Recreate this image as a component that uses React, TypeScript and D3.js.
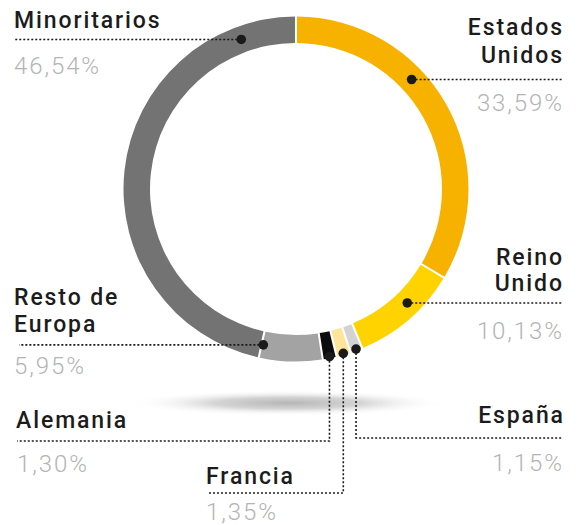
import React from "react";
import * as d3 from "d3";

// ---- data ----
const categories = ["Estados Unidos", "Reino Unido", "España", "Francia", "Alemania", "Resto de Europa", "Minoritarios"];
const values = [33.59, 10.13, 1.15, 1.35, 1.3, 5.95, 46.54];
const valueLabels = ["33,59%", "10,13%", "1,15%", "1,35%", "1,30%", "5,95%", "46,54%"];
const labelLines = [["Estados", "Unidos"], ["Reino", "Unido"], ["España"], ["Francia"], ["Alemania"], ["Resto de", "Europa"], ["Minoritarios"]];
const colors = ["#F7B200", "#FFD300", "#D3D3D3", "#FFE599", "#0C0C0C", "#A3A3A3", "#737373"];

// where the callout dot sits within each slice (0..1 along the slice) and whether on the outer edge
const dotFraction = [0.385, 0.405, 0.5, 0.5, 0.5, 0.97, 0.88];
const dotOnOuter = [false, false, true, true, true, false, false];

// ---- layout ----
const W = 578, H = 525;
const cx = 296, cy = 189;
const rOuter = 172.5, rInner = 146;
const rMid = (rOuter + rInner) / 2;

type Callout = {
  anchor: "start" | "end";
  textX: number;
  lineY: number[];
  pctY: number;
  pctX: number;
  edgeX: number;
  elbowY?: number;
};

const LS_LABEL = 1.9;
const LS_PCT = 1.9;

const callouts: Callout[] = [
  { anchor: "end", textX: 562 + LS_LABEL, lineY: [35, 63], pctY: 111, pctX: 562 + LS_PCT, edgeX: 562 },
  { anchor: "end", textX: 562 + LS_LABEL, lineY: [265, 291], pctY: 339, pctX: 562 + LS_PCT, edgeX: 562 },
  { anchor: "end", textX: 563 + LS_LABEL, lineY: [423], pctY: 471, pctX: 562 + LS_PCT, edgeX: 563, elbowY: 438 },
  { anchor: "start", textX: 206, lineY: [484], pctY: 520, pctX: 206, edgeX: 207, elbowY: 493 },
  { anchor: "start", textX: 16, lineY: [428], pctY: 472, pctX: 17, edgeX: 17, elbowY: 441 },
  { anchor: "start", textX: 14, lineY: [305, 332], pctY: 374, pctX: 14, edgeX: 19 },
  { anchor: "start", textX: 14, lineY: [28], pctY: 74, pctX: 14, edgeX: 15 },
];

const FONT = "Roboto, 'Open Sans', sans-serif";

export default function App() {
  const pie = d3.pie<number>().sort(null).value((d) => d);
  const arcs = pie(values);
  const arcGen = d3
    .arc<d3.PieArcDatum<number>>()
    .innerRadius(rInner)
    .outerRadius(rOuter)
    .padAngle(0.009);

  const dots = arcs.map((a, i) => {
    const ang = a.startAngle + (a.endAngle - a.startAngle) * dotFraction[i];
    const r = dotOnOuter[i] ? rOuter - 1.5 : rMid;
    return { x: cx + r * Math.sin(ang), y: cy - r * Math.cos(ang) };
  });

  return (
    <svg
      width={W}
      height={H}
      viewBox={`0 0 ${W} ${H}`}
      style={{ position: "absolute", left: 0, top: 0, background: "#fff" }}
    >
      <defs>
        <radialGradient id="shadow">
          <stop offset="0%" stopColor="#b5b5b5" stopOpacity={1} />
          <stop offset="45%" stopColor="#cccccc" stopOpacity={0.85} />
          <stop offset="100%" stopColor="#ffffff" stopOpacity={0} />
        </radialGradient>
      </defs>
      <ellipse cx={cx - 8} cy={403} rx={160} ry={13} fill="url(#shadow)" />

      <g transform={`translate(${cx},${cy})`}>
        {arcs.map((a, i) => (
          <path key={categories[i]} d={arcGen(a) || ""} fill={colors[i]} />
        ))}
      </g>

      {dots.map((d, i) => {
        const c = callouts[i];
        const pts = c.elbowY !== undefined
          ? `M${d.x},${d.y} L${d.x},${c.elbowY} L${c.edgeX},${c.elbowY}`
          : `M${d.x},${d.y} L${c.edgeX},${d.y}`;
        return (
          <path
            key={"l" + i}
            d={pts}
            fill="none"
            stroke="#1a1a1a"
            strokeWidth={1.6}
            strokeDasharray="2,2"
          />
        );
      })}
      {dots.map((d, i) => (
        <circle key={"d" + i} cx={d.x} cy={d.y} r={4.8} fill="#1a1a1a" />
      ))}

      {callouts.map((c, i) => (
        <g key={"t" + i}>
          {labelLines[i].map((t, j) => (
            <text
              key={j}
              x={c.textX}
              y={c.lineY[j]}
              textAnchor={c.anchor}
              fontFamily={FONT}
              fontWeight={500}
              fontSize={23}
              letterSpacing={LS_LABEL}
              fill="#1c1c1c"
            >
              {t}
            </text>
          ))}
          <text
            x={c.pctX}
            y={c.pctY}
            textAnchor={c.anchor}
            fontFamily={FONT}
            fontWeight={300}
            fontSize={24}
            letterSpacing={LS_PCT}
            fill="#b4b4b4"
          >
            {valueLabels[i]}
          </text>
        </g>
      ))}
    </svg>
  );
}
